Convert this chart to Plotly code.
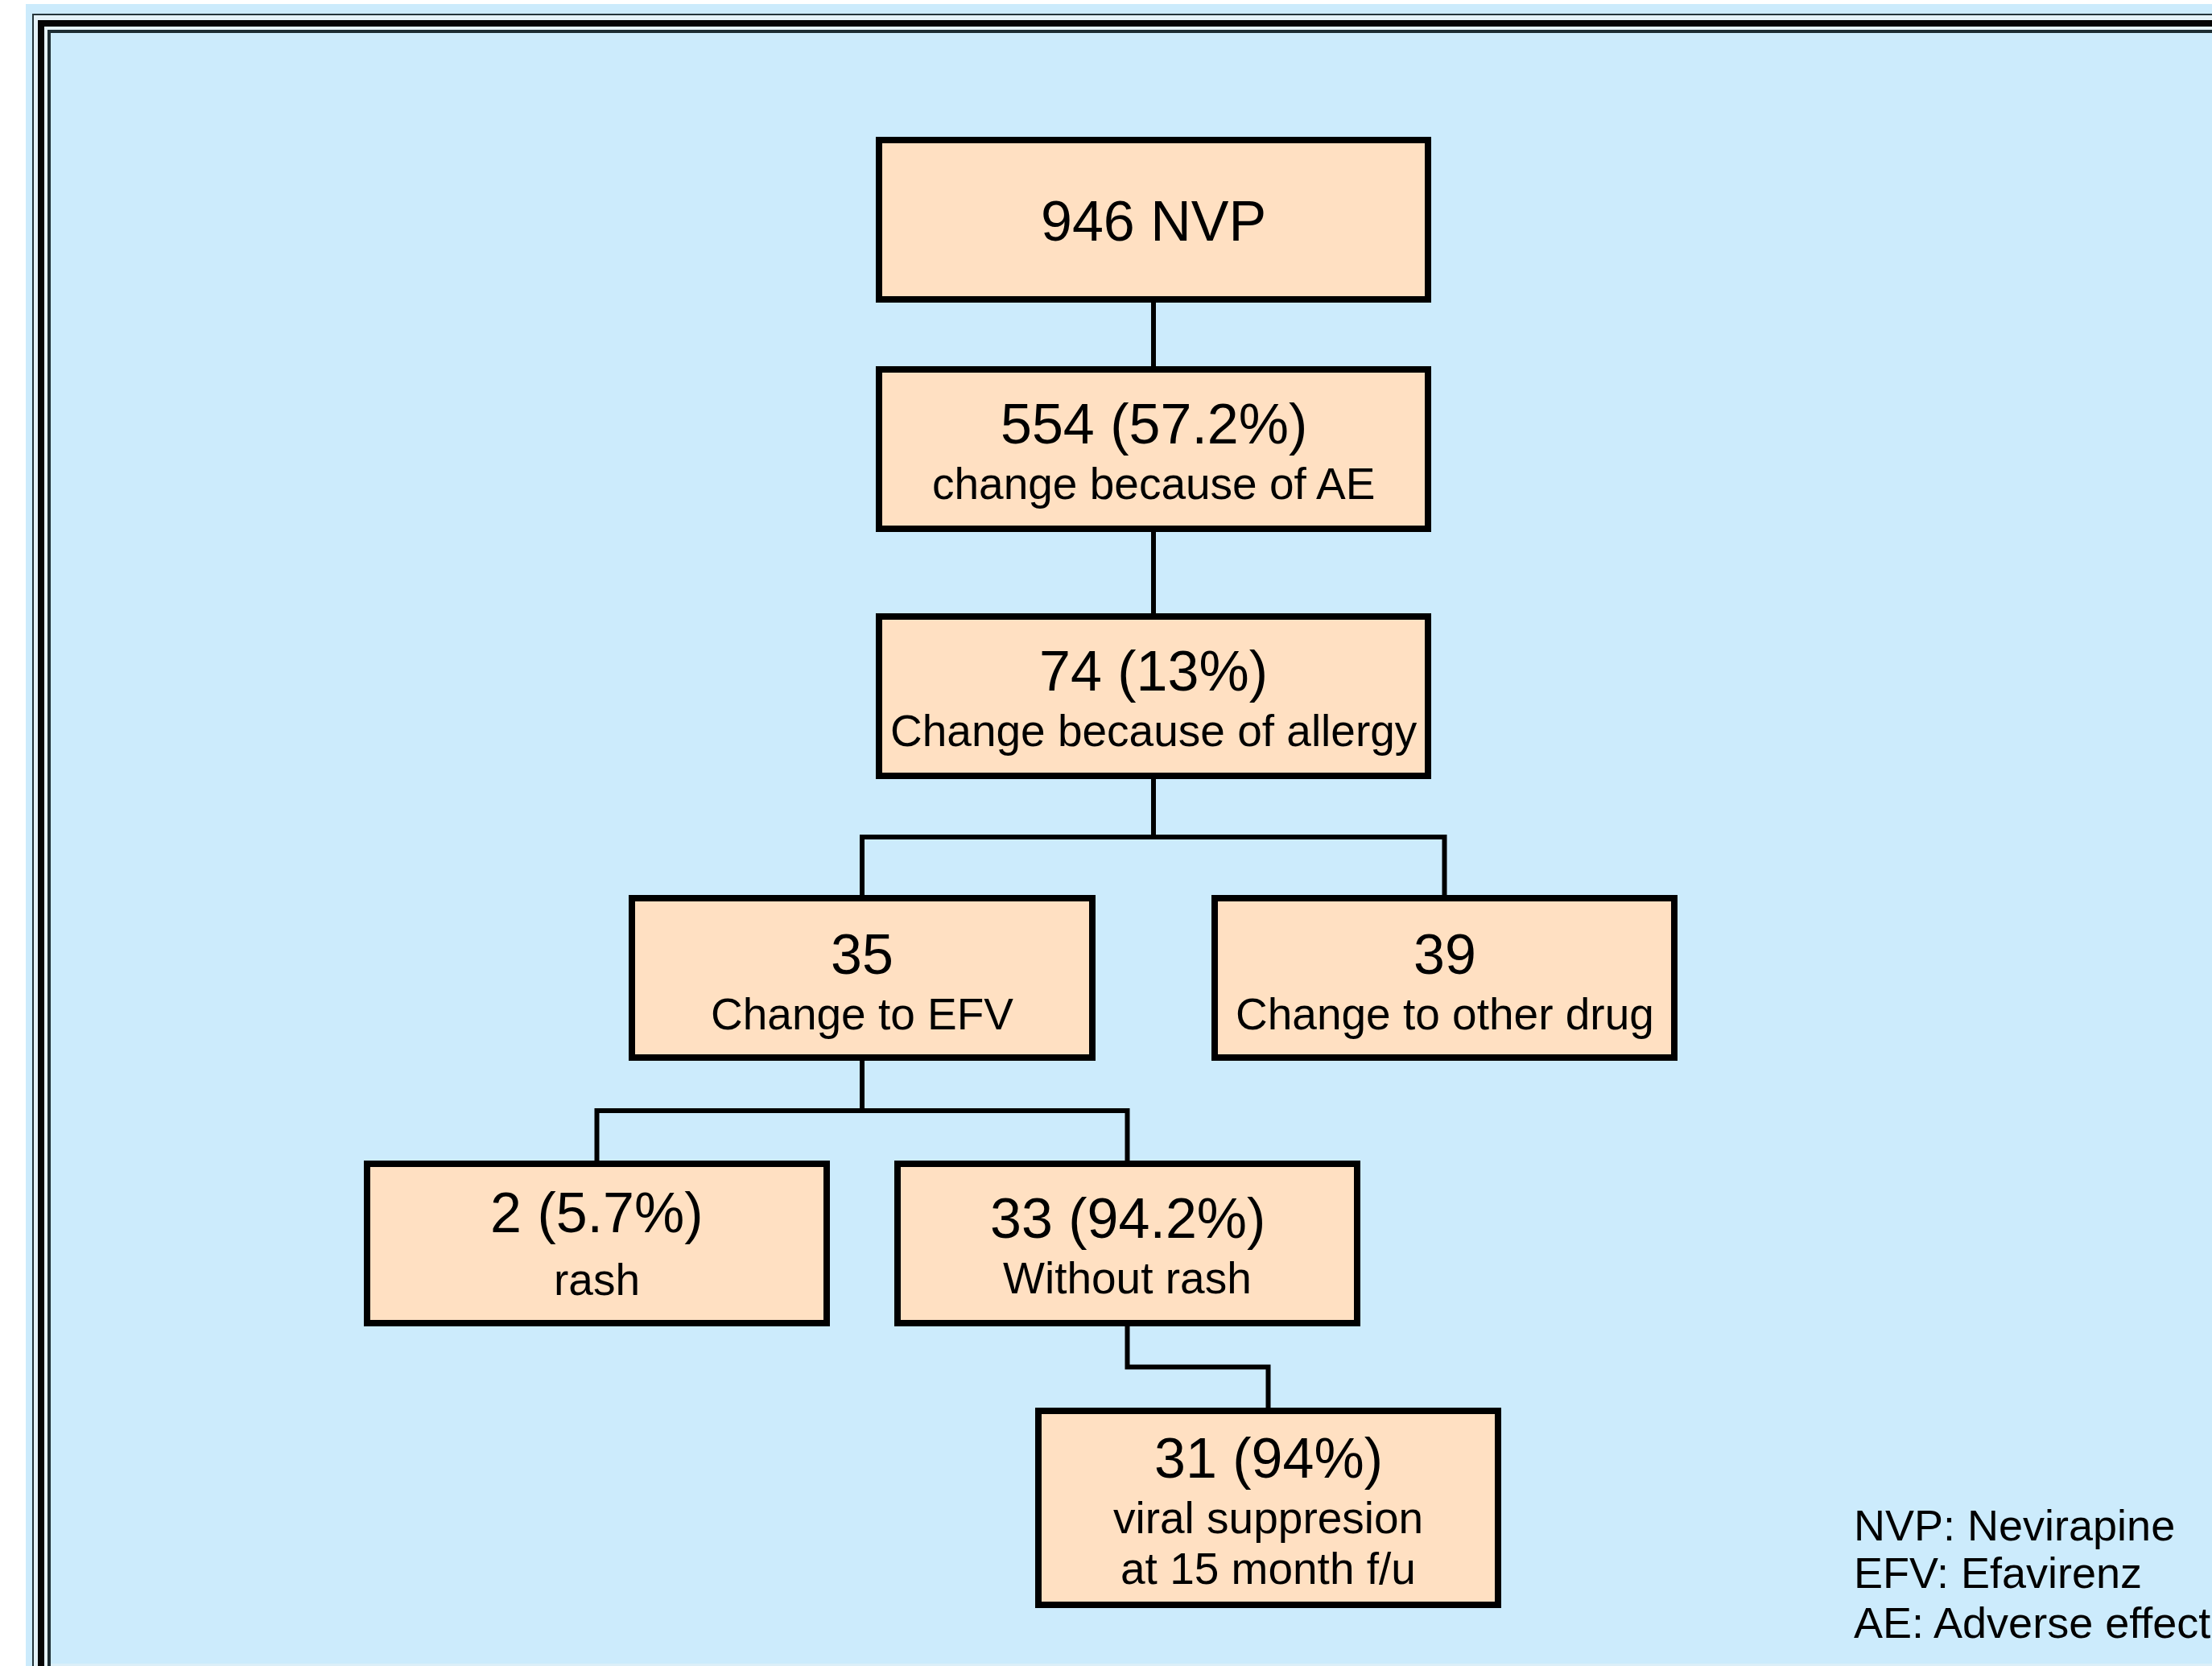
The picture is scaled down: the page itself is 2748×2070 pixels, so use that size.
import plotly.graph_objects as go

# ---------------- data ----------------
node_counts = [946, 554, 74, 35, 39, 2, 33, 31]
node_pcts = [None, "57.2%", "13%", None, None, "5.7%", "94.2%", "94%"]
node_labels = ["NVP", "change because of AE", "Change because of allergy",
               "Change to EFV", "Change to other drug", "rash", "Without rash",
               "viral suppresion"]
node_label2 = [None, None, None, None, None, None, None, "at 15 month f/u"]
node_parent = [None, 0, 1, 2, 2, 3, 3, 6]
legend_lines = ["NVP: Nevirapine", "EFV: Efavirenz", "AE: Adverse effect"]

# ---------------- layout (pixel geometry) ----------------
W, H = 2748, 2070
box_x0 = [1092, 1092, 1092, 785, 1509, 456, 1115, 1290]
box_x1 = [1774, 1774, 1774, 1357, 2080, 1027, 1686, 1861]
box_y0 = [174, 459, 766, 1116, 1116, 1446, 1446, 1753]
box_y1 = [372, 657, 964, 1314, 1314, 1644, 1644, 1994]
line1_y = [275, 527, 834, 1186, 1186, 1507, 1514, 1812]
line2_y = [None, 601, 908, 1260, 1260, 1590, 1588, 1886]
line3_y = [None, None, None, None, None, None, None, 1949]

BG = "#CCEBFC"
FILL = "#FFE0C2"
FONT = "Liberation Sans, Arial, sans-serif"

shapes = []
def rect(x0, y0, x1, y1, fill, line_w=0, line_c="black", layer="below"):
    shapes.append(dict(type="rect", xref="x", yref="y", x0=x0, y0=y0, x1=x1, y1=y1,
                       fillcolor=fill, line=dict(width=line_w, color=line_c), layer=layer))

# frame
rect(32, 5, W + 20, H + 20, BG)
rect(40, 17, W + 20, H + 20, "#E4F2F8")
rect(63, 41, W + 20, H + 20, BG)
rect(40, 17, 42, H + 20, "#24343a")
rect(40, 17, W + 20, 19, "#24343a")
rect(47, 25, 55, H + 20, "#050505")
rect(47, 25, W + 20, 33, "#050505")
rect(59, 37, 63, H + 20, "#1c2c32")
rect(59, 37, W + 20, 41, "#1c2c32")
rect(63, H - 3, W + 20, H + 20, "#DCEFF8")

# connectors (elbow lines) from parent bottom-centre to child top-centre
for i, p in enumerate(node_parent):
    if p is None:
        continue
    px = (box_x0[p] + box_x1[p]) / 2
    cx = (box_x0[i] + box_x1[i]) / 2
    py = box_y1[p]
    cy = box_y0[i]
    my = (py + cy) / 2
    shapes.append(dict(type="path", xref="x", yref="y",
                       path=f"M {px},{py} L {px},{my} L {cx},{my} L {cx},{cy}",
                       line=dict(color="black", width=6), layer="above"))

# boxes
for i in range(len(node_counts)):
    shapes.append(dict(type="rect", xref="x", yref="y",
                       x0=box_x0[i], y0=box_y0[i], x1=box_x1[i], y1=box_y1[i],
                       fillcolor=FILL, line=dict(color="black", width=8), layer="above"))

annotations = []
def txt(x, y, s, size, xanchor="center"):
    annotations.append(dict(x=x, y=y, xref="x", yref="y", text=s, showarrow=False,
                            xanchor=xanchor, yanchor="middle",
                            font=dict(family=FONT, size=size, color="black")))

for i in range(len(node_counts)):
    cx = (box_x0[i] + box_x1[i]) / 2
    if i == 0:
        txt(cx, line1_y[i], f"{node_counts[i]} {node_labels[i]}", 70)
        continue
    head = f"{node_counts[i]}" if node_pcts[i] is None else f"{node_counts[i]} ({node_pcts[i]})"
    txt(cx, line1_y[i], head, 70)
    txt(cx, line2_y[i], node_labels[i], 55)
    if node_label2[i]:
        txt(cx, line3_y[i], node_label2[i], 55)

legend_y = [1895, 1954, 2016]
for s, y in zip(legend_lines, legend_y):
    txt(2301, y, s, 54, xanchor="left")

fig = go.Figure()
fig.add_trace(go.Scatter(x=[0], y=[0], mode="markers", marker=dict(opacity=0),
                         hoverinfo="skip", showlegend=False))
fig.update_layout(
    width=W, height=H, margin=dict(l=0, r=0, t=0, b=0),
    paper_bgcolor="white", plot_bgcolor="white",
    xaxis=dict(range=[0, W], visible=False, fixedrange=True),
    yaxis=dict(range=[H, 0], visible=False, fixedrange=True),
    shapes=shapes, annotations=annotations, showlegend=False,
)
fig.write_html("out.html", config={"displayModeBar": False},
               post_script="document.body.style.margin='0';document.body.style.overflow='hidden';")
